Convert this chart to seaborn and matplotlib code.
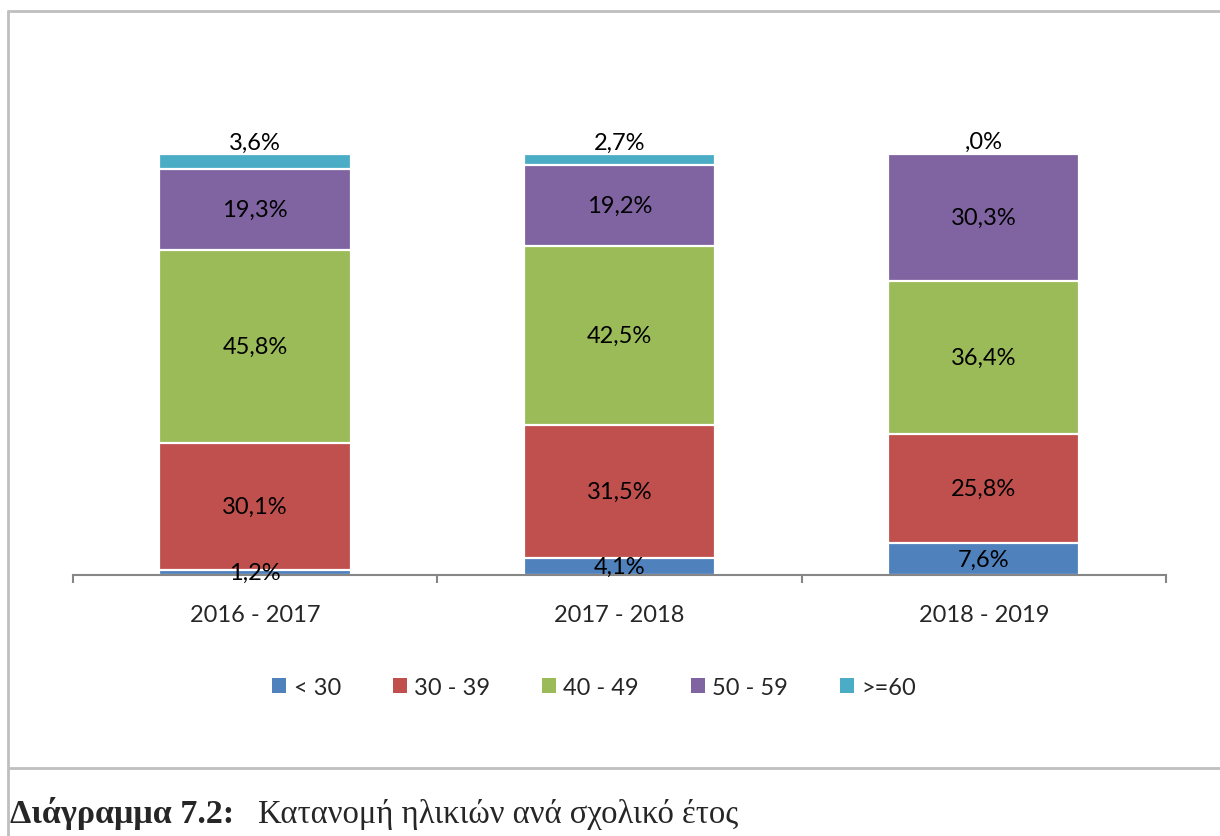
"""
Stacked percentage bars: age distribution per school year.
"""

import matplotlib.pyplot as plt
import numpy as np
import pandas as pd
import seaborn as sns
from matplotlib.lines import Line2D
from matplotlib.patches import Patch

# ── Data ───────────────────────────────────────────────────────────────
years = ["2016 - 2017", "2017 - 2018", "2018 - 2019"]
age_groups = ["< 30", "30 - 39", "40 - 49", "50 - 59", ">=60"]
under_30 = [1.2, 4.1, 7.6]
age_30_39 = [30.1, 31.5, 25.8]
age_40_49 = [45.8, 42.5, 36.4]
age_50_59 = [19.3, 19.2, 30.3]
over_60 = [3.6, 2.7, 0.0]
colors = ["#4F81BD", "#C0504D", "#9BBB59", "#8064A2", "#4BACC6"]

caption_bold = "Διάγραμμα 7.2:"
caption_text = "Κατανομή ηλικιών ανά σχολικό έτος"

sns.set_theme(style="white")
plt.rcParams["font.family"] = ["Lato", "DejaVu Sans"]

series = [under_30, age_30_39, age_40_49, age_50_59, over_60]
values = np.array(series)
tops = values.cumsum(axis=0)
bottoms = tops - values

fig = plt.figure(figsize=(12.2, 8.37), dpi=100)
ax = fig.add_axes([0.0598, 0.3118, 0.8959, 0.503])

# draw cumulative bars from the top series down so lower ones overlay
for i in range(len(series) - 1, -1, -1):
    df = pd.DataFrame({"year": years, "top": tops[i]})
    sns.barplot(
        data=df, x="year", y="top", order=years, color=colors[i],
        saturation=1, width=0.525, edgecolor="white", linewidth=1.6,
        errorbar=None, ax=ax,
    )

# segment labels
for i, vals in enumerate(series):
    for j, v in enumerate(vals):
        label = f"{v:.1f}".replace(".", ",") + "%"
        if label.startswith("0,"):
            label = label[1:]
        if i == len(series) - 1:
            ax.text(j, tops[i][j] + 0.3, label, ha="center", va="bottom",
                    fontsize=17, color="black", clip_on=False)
        else:
            ax.text(j, bottoms[i][j] + v / 2, label, ha="center",
                    va="center", fontsize=17, color="black", clip_on=False)

ax.set_xlim(-0.5, 2.5)
ax.set_ylim(0, 100)
ax.set_xlabel("")
ax.set_ylabel("")
ax.set_yticks([])
for side in ["top", "right", "left"]:
    ax.spines[side].set_visible(False)
ax.spines["bottom"].set_color("#868686")
ax.spines["bottom"].set_linewidth(1.5)
ax.set_xticks(range(len(years)))
ax.set_xticklabels(years, fontsize=17)
ax.set_xticks([-0.5, 0.5, 1.5, 2.5], minor=True)
ax.tick_params(axis="x", which="major", length=0, pad=21)
ax.tick_params(axis="x", which="minor", length=6, width=1.5,
               color="#868686", direction="out", bottom=True)

handles = [Patch(facecolor=c, edgecolor="none") for c in colors]
fig.legend(
    handles, age_groups, loc="center", bbox_to_anchor=(0.487, 0.178),
    ncol=5, frameon=False, fontsize=17, handlelength=0.6,
    handleheight=0.6, handletextpad=0.3, columnspacing=2.2,
)

# frame and caption
frame_kw = dict(color="#BFBFBF", linewidth=2, transform=fig.transFigure)
fig.add_artist(Line2D([8 / 1220, 1.0], [1 - 12 / 837] * 2, **frame_kw))
fig.add_artist(Line2D([8 / 1220] * 2, [0, 1 - 12 / 837], **frame_kw))
fig.add_artist(Line2D([8 / 1220, 1.0], [1 - 769 / 837] * 2, **frame_kw))

fig.text(10 / 1220, 1 - 823 / 837, caption_bold, fontsize=24.5,
         fontweight="bold", family=["Liberation Serif"], va="baseline")
fig.text(258 / 1220, 1 - 823 / 837, caption_text, fontsize=23.5,
         family=["Liberation Serif"], va="baseline")

fig.savefig("out.png", dpi=100)
plt.close(fig)
